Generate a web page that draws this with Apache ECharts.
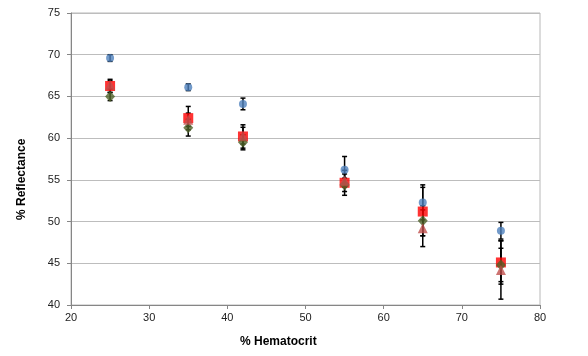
<!DOCTYPE html>
<html>
<head>
<meta charset="utf-8">
<script src="https://cdn.jsdelivr.net/npm/echarts@6/dist/echarts.min.js"></script>
<style>
  html, body { margin: 0; padding: 0; background: #fff; }
  #chart { width: 588px; height: 356px; }
</style>
</head>
<body>
<div id="chart"></div>
<script>
// % hematocrit on the x axis
const hematocrit = [25, 35, 42, 55, 65, 75];

// mean % reflectance, one array per series, with +/- error
const circleVals = [69.6, 66.1, 64.1, 56.2, 52.3, 48.9];
const circleErr = [0.4, 0.4, 0.7, 1.6, 2.1, 1.0];

const squareVals = [66.25, 62.4, 60.2, 54.65, 51.2, 45.1];
const squareErr = [0.8, 1.4, 1.4, 1.5, 2.9, 2.6];

const diamondVals = [65.0, 61.25, 59.5, 54.4, 50.1, 44.8];
const diamondErr = [0.5, 1.0, 0.9, 0.8, 1.8, 2.0];

const triangleVals = [66.4, 62.2, 60.3, 54.9, 49.2, 44.2];
const triangleErr = [0.5, 0.8, 1.0, 0.8, 2.2, 3.5];

const xTicks = [20, 30, 40, 50, 60, 70, 80];
const yTicks = [40, 45, 50, 55, 60, 65, 70, 75];

const chart = echarts.init(document.getElementById("chart"));

function points(vals) {
  return hematocrit.map((x, i) => [x, vals[i]]);
}
function errorData(vals, errs) {
  return hematocrit.map((x, i) => [x, vals[i] - errs[i], vals[i] + errs[i]]);
}

// error bar with small caps
function renderError(params, api) {
  const low = api.coord([api.value(0), api.value(1)]);
  const high = api.coord([api.value(0), api.value(2)]);
  const w = 2.5;
  const style = { stroke: "#000", lineWidth: 1.5 };
  return {
    type: "group",
    children: [
      { type: "line", shape: { x1: low[0], y1: low[1], x2: high[0], y2: high[1] }, style: style },
      { type: "line", shape: { x1: low[0] - w, y1: low[1], x2: low[0] + w, y2: low[1] }, style: style },
      { type: "line", shape: { x1: high[0] - w, y1: high[1], x2: high[0] + w, y2: high[1] }, style: style },
    ],
  };
}

function errSeries(vals, errs) {
  return {
    type: "custom",
    renderItem: renderError,
    data: errorData(vals, errs),
    encode: { x: 0, y: [1, 2] },
    z: 1,
    silent: true,
  };
}

const option = {
  animation: false,
  grid: {
    left: 71,
    right: 48,
    top: 13,
    bottom: 51,
    show: true,
    borderColor: "#b8b8b8",
    borderWidth: 1,
  },
  xAxis: {
    type: "value",
    min: xTicks[0],
    max: xTicks[xTicks.length - 1],
    interval: 10,
    axisLine: { show: true, lineStyle: { color: "#868686", width: 1 } },
    axisTick: { show: true, inside: false, length: 4, lineStyle: { color: "#868686" } },
    axisLabel: { color: "#222", fontFamily: "Liberation Sans", fontSize: 11, margin: 7 },
    splitLine: { show: false },
  },
  yAxis: {
    type: "value",
    min: yTicks[0],
    max: yTicks[yTicks.length - 1],
    interval: 5,
    axisLine: { show: true, lineStyle: { color: "#868686", width: 1 } },
    axisTick: { show: true, inside: false, length: 4, lineStyle: { color: "#868686" } },
    axisLabel: { color: "#222", fontFamily: "Liberation Sans", fontSize: 11, margin: 11 },
    splitLine: { show: true, lineStyle: { color: "#bdbdbd", width: 1 } },
  },
  graphic: [
    {
      type: "text",
      left: 240,
      top: 336,
      style: { text: "% Hematocrit", font: "bold 12px Liberation Sans", fill: "#000" },
    },
    {
      type: "text",
      x: 16,
      y: 220,
      rotation: Math.PI / 2,
      style: { text: "% Reflectance", font: "bold 12px Liberation Sans", fill: "#000" },
    },
  ],
  series: [
    errSeries(circleVals, circleErr),
    errSeries(squareVals, squareErr),
    errSeries(diamondVals, diamondErr),
    errSeries(triangleVals, triangleErr),
    {
      type: "scatter",
      data: points(squareVals),
      symbol: "rect",
      symbolSize: 10,
      itemStyle: { color: "#ff0000" },
      z: 3,
    },
    {
      type: "scatter",
      data: points(diamondVals),
      symbol: "diamond",
      symbolSize: [10, 11],
      itemStyle: { color: "#4f6228" },
      z: 4,
    },
    {
      type: "scatter",
      data: points(triangleVals),
      symbol: "triangle",
      symbolSize: [10, 10],
      itemStyle: { color: "#c0504d" },
      z: 5,
    },
    {
      type: "scatter",
      data: points(circleVals),
      symbol: "circle",
      symbolSize: 8,
      itemStyle: { color: "#4f81bd" },
      z: 6,
    },
  ],
};

chart.setOption(option);
</script>
</body>
</html>
